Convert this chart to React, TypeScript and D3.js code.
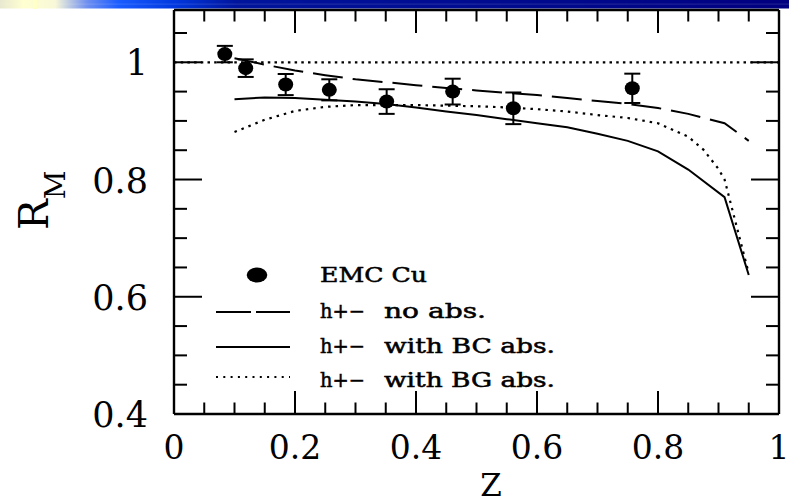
import React from "react";
import * as d3 from "d3";

// EMC Cu data points
const emcZ = [0.084, 0.1185, 0.1846, 0.2567, 0.3515, 0.4606, 0.5609, 0.7575];
const emcR = [1.014, 0.990, 0.962, 0.953, 0.933, 0.950, 0.9215, 0.9556];
const emcErr = [0.014, 0.015, 0.018, 0.018, 0.021, 0.022, 0.027, 0.025];

// h+- no abs. (dashed)
const noAbsZ = [0.1, 0.15, 0.2, 0.25, 0.3, 0.35, 0.4, 0.45, 0.5, 0.55, 0.6, 0.65, 0.7, 0.75, 0.8, 0.85, 0.91, 0.95];
const noAbsR = [1.007, 0.996, 0.986, 0.978, 0.971, 0.966, 0.961, 0.956, 0.952, 0.948, 0.944, 0.939, 0.934, 0.929, 0.922, 0.912, 0.896, 0.866];

// h+- with BC abs. (solid)
const bcZ = [0.1, 0.15, 0.2, 0.25, 0.3, 0.35, 0.4, 0.45, 0.5, 0.55, 0.6, 0.65, 0.7, 0.75, 0.8, 0.85, 0.91, 0.95];
const bcR = [0.937, 0.940, 0.939, 0.936, 0.933, 0.929, 0.923, 0.916, 0.910, 0.903, 0.896, 0.889, 0.878, 0.866, 0.848, 0.817, 0.770, 0.637];

// h+- with BG abs. (dotted)
const bgZ = [0.1, 0.15, 0.2, 0.25, 0.3, 0.35, 0.4, 0.45, 0.5, 0.55, 0.6, 0.65, 0.7, 0.75, 0.8, 0.85, 0.875, 0.9, 0.91, 0.95];
const bgR = [0.881, 0.902, 0.917, 0.924, 0.927, 0.927, 0.927, 0.926, 0.925, 0.923, 0.920, 0.916, 0.910, 0.905, 0.896, 0.873, 0.851, 0.818, 0.800, 0.640];

// reference line at R = 1
const refZ = [0, 1];
const refR = [1, 1];

const xTickLabels = ["0", "0.2", "0.4", "0.6", "0.8", "1"];
const xTickValues = [0, 0.2, 0.4, 0.6, 0.8, 1];
const yTickLabels = ["0.4", "0.6", "0.8", "1"];
const yTickValues = [0.4, 0.6, 0.8, 1];
const xMinorValues = [0, 0.05, 0.1, 0.15, 0.2, 0.25, 0.3, 0.35, 0.4, 0.45, 0.5, 0.55, 0.6, 0.65, 0.7, 0.75, 0.8, 0.85, 0.9, 0.95, 1];
const yMinorValues = [0.4, 0.45, 0.5, 0.55, 0.6, 0.65, 0.7, 0.75, 0.8, 0.85, 0.9, 0.95, 1, 1.05];

const legendLabels = ["EMC Cu", "no abs.", "with BC abs.", "with BG abs."];

const W = 789, H = 504;
const yMax = 1.0892;

export default function App() {
  const x = d3.scaleLinear().domain([0, 1]).range([174, 779]);
  const y = d3.scaleLinear().domain([0.4, yMax]).range([414, 10]);
  const line = d3.line<[number, number]>().x(d => x(d[0])).y(d => y(d[1]));
  const pairs = (zs: number[], rs: number[]) => zs.map((z, i) => [z, rs[i]] as [number, number]);
  const isMajor = (v: number) => Math.abs(v * 5 - Math.round(v * 5)) < 1e-6;

  const font = "'DejaVu Serif', serif";
  const x0 = x(0), x1 = x(1), yTop = y(yMax), yBot = y(0.4);

  const xT = xMinorValues.map(v => ({ p: x(v), len: isMajor(v) ? 23 : 11.5 }));
  const yT = yMinorValues.map(v => ({ p: y(v), len: isMajor(v) ? 28 : 13 }));

  return (
    <svg width={W} height={H} style={{ position: "absolute", left: 0, top: 0, background: "#fff" }}>
      <defs>
        <linearGradient id="hdr" x1="0" x2="1" y1="0" y2="0">
          <stop offset="0" stopColor="#e8e8d0" />
          <stop offset="0.03" stopColor="#ffffd0" />
          <stop offset="0.07" stopColor="#f8f8d8" />
          <stop offset="0.11" stopColor="#7090f0" />
          <stop offset="0.15" stopColor="#1a5cff" />
          <stop offset="0.22" stopColor="#0038e0" />
          <stop offset="0.3" stopColor="#00149c" />
          <stop offset="1" stopColor="#000080" />
        </linearGradient>
      </defs>
      <rect x={0} y={0} width={W} height={H} fill="#fff" />
      {/* header bar */}
      <rect x={0} y={0} width={W} height={8.5} fill="url(#hdr)" />
      <rect x={0} y={3.5} width={W} height={1.2} fill="#ffffff" opacity={0.12} />
      <rect x={33} y={0} width={4} height={9} fill="#ffffc8" />

      {/* reference line at 1 */}
      <path d={line(pairs(refZ, refR)) || ""} fill="none" stroke="#000" strokeWidth={2.2} strokeDasharray="2.5 4.2" />
      {/* curves */}
      <path d={line(pairs(noAbsZ, noAbsR)) || ""} fill="none" stroke="#000" strokeWidth={2} strokeDasharray="30 10" />
      <path d={line(pairs(bcZ, bcR)) || ""} fill="none" stroke="#000" strokeWidth={2} />
      <path d={line(pairs(bgZ, bgR)) || ""} fill="none" stroke="#000" strokeWidth={2.2} strokeDasharray="2.5 5" />

      {/* data points */}
      {emcZ.map((z, i) => {
        const cx = x(z), cy = y(emcR[i]);
        const yt = y(emcR[i] + emcErr[i]), yb = y(emcR[i] - emcErr[i]);
        return (
          <g key={i}>
            <line x1={cx} x2={cx} y1={yt} y2={yb} stroke="#000" strokeWidth={2} />
            <line x1={cx - 8} x2={cx + 8} y1={yt} y2={yt} stroke="#000" strokeWidth={2} />
            <line x1={cx - 8} x2={cx + 8} y1={yb} y2={yb} stroke="#000" strokeWidth={2} />
            <ellipse cx={cx} cy={cy} rx={7.5} ry={7} fill="#000" />
          </g>
        );
      })}

      {/* ticks: drawn as small lines like the error bars */}
      {xT.map((t, i) => (
        <g key={"xt" + i}>
          <line x1={t.p} x2={t.p} y1={yBot} y2={yBot - t.len} stroke="#000" strokeWidth={2} />
          <line x1={t.p} x2={t.p} y1={yTop} y2={yTop + t.len} stroke="#000" strokeWidth={2} />
        </g>
      ))}
      {yT.map((t, i) => (
        <g key={"yt" + i}>
          <line x1={x0} x2={x0 + t.len} y1={t.p} y2={t.p} stroke="#000" strokeWidth={2} />
          <line x1={x1} x2={x1 - t.len} y1={t.p} y2={t.p} stroke="#000" strokeWidth={2} />
        </g>
      ))}
      {/* frame */}
      <line x1={x0} x2={x1} y1={yTop} y2={yTop} stroke="#000" strokeWidth={2.4} />
      <line x1={x0} x2={x1} y1={yBot} y2={yBot} stroke="#000" strokeWidth={2.4} />
      <line x1={x0} x2={x0} y1={yTop} y2={yBot} stroke="#000" strokeWidth={2.4} />
      <line x1={x1} x2={x1} y1={yTop} y2={yBot} stroke="#000" strokeWidth={2.4} />

      {/* tick labels */}
      {xTickValues.map((v, i) => (
        <text key={"xl" + i} x={x(v)} y={459} textAnchor="middle" fontFamily={font} fontSize={33} fill="#000">
          {xTickLabels[i]}
        </text>
      ))}
      {yTickValues.map((v, i) => (
        <text key={"yl" + i} x={148} y={y(v) + 13} textAnchor="end" fontFamily={font} fontSize={35} fill="#000">
          {yTickLabels[i]}
        </text>
      ))}

      {/* axis titles */}
      <text x={491} y={496} textAnchor="middle" fontFamily={font} fontSize={31} fill="#000">Z</text>
      <g transform="translate(48,230) rotate(-90)">
        <text x={0} y={0} fontFamily={font} fontSize={41} fill="#000">
          R<tspan fontSize={28} dy={17}>M</tspan>
        </text>
      </g>

      {/* legend */}
      <ellipse cx={257} cy={275} rx={10.3} ry={7.5} fill="#000" />
      <line x1={216} x2={290} y1={312} y2={312} stroke="#000" strokeWidth={2} strokeDasharray="35 5" />
      <line x1={216} x2={290} y1={347} y2={347} stroke="#000" strokeWidth={2} />
      <line x1={216} x2={290} y1={377} y2={377} stroke="#000" strokeWidth={2} strokeDasharray="2 5.3" />
      <g fontFamily={font} fontSize={20} fill="#000" stroke="#000" strokeWidth={0.5}>
        <text x={320} y={282} textLength={107} lengthAdjust="spacingAndGlyphs">{legendLabels[0]}</text>
        <text x={320} y={318} textLength={45} lengthAdjust="spacingAndGlyphs">h+−</text>
        <text x={384} y={318} textLength={102} lengthAdjust="spacingAndGlyphs">{legendLabels[1]}</text>
        <text x={320} y={353} textLength={45} lengthAdjust="spacingAndGlyphs">h+−</text>
        <text x={384} y={353} textLength={171} lengthAdjust="spacingAndGlyphs">{legendLabels[2]}</text>
        <text x={320} y={387} textLength={45} lengthAdjust="spacingAndGlyphs">h+−</text>
        <text x={384} y={387} textLength={171} lengthAdjust="spacingAndGlyphs">{legendLabels[3]}</text>
      </g>
    </svg>
  );
}
